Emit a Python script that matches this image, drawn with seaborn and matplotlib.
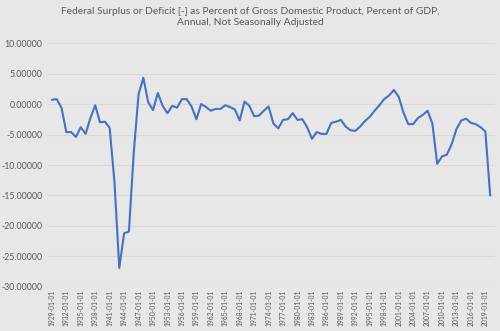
import matplotlib
matplotlib.use("Agg")
import matplotlib.pyplot as plt
import seaborn as sns
import pandas as pd
import numpy as np

years = list(range(1929, 2021))
surplus_pct_gdp = [
    0.7, 0.8, -0.6, -4.6, -4.6, -5.4, -3.8, -4.9, -2.3, -0.2,
    -3.0, -2.9, -3.9, -12.8, -26.9, -21.2, -20.9, -8.0, 1.6, 4.3,
    0.3, -1.0, 1.8, -0.3, -1.5, -0.3, -0.6, 0.8, 0.8, -0.4,
    -2.5, 0.0, -0.5, -1.1, -0.8, -0.8, -0.2, -0.5, -0.9, -2.7,
    0.4, -0.3, -2.0, -1.9, -1.1, -0.4, -3.2, -4.0, -2.6, -2.5,
    -1.5, -2.6, -2.5, -3.8, -5.7, -4.6, -4.9, -4.9, -3.1, -2.9,
    -2.6, -3.7, -4.3, -4.4, -3.7, -2.8, -2.1, -1.1, -0.2, 0.8,
    1.4, 2.3, 1.2, -1.4, -3.3, -3.3, -2.3, -1.8, -1.1, -3.2,
    -9.8, -8.6, -8.3, -6.6, -4.1, -2.7, -2.4, -3.1, -3.3, -3.8,
    -4.5, -15.0,
]
tick_years = list(range(1929, 2020, 3))
tick_labels = [f"{y}-01-01" for y in tick_years]
y_ticks = [10, 5, 0, -5, -10, -15, -20, -25, -30]
title = ("Federal Surplus or Deficit [-] as Percent of Gross Domestic Product, Percent of GDP,\n"
         "Annual, Not Seasonally Adjusted")

df = pd.DataFrame({"year": years, "value": surplus_pct_gdp})

sns.set_theme(style="white")
plt.rcParams["font.family"] = ["Lato", "DejaVu Sans"]

bg = "#e7e7e7"
text_col = "#595959"
fig = plt.figure(figsize=(5, 3.31), dpi=100, facecolor=bg)
ax = fig.add_axes([0.096, 0.133, 0.894, 0.737], facecolor=bg)

for yv in y_ticks:
    ax.axhline(yv, color="#d9d9d9", lw=0.8, zorder=0)

sns.lineplot(data=df, x="year", y="value", ax=ax, color="#4472c4", lw=1.5)

ax.set_xlim(1928.2, 2021.0)
ax.set_ylim(-30, 10)
ax.set_yticks(y_ticks)
ax.set_yticklabels([f"{v:.5f}" for v in y_ticks], fontsize=6.3, color=text_col)
ax.set_xticks(tick_years)
ax.set_xticklabels(tick_labels, rotation=90, fontsize=4.9, color=text_col)
ax.tick_params(axis="x", length=0, pad=2)
ax.tick_params(axis="y", length=0, pad=4)
ax.set_xlabel("")
ax.set_ylabel("")
for s in ax.spines.values():
    s.set_visible(False)

fig.text(0.5, 0.978, title, ha="center", va="top", fontsize=7.4,
         color=text_col, linespacing=1.3)

fig.savefig("out.png", dpi=100, facecolor=bg)
